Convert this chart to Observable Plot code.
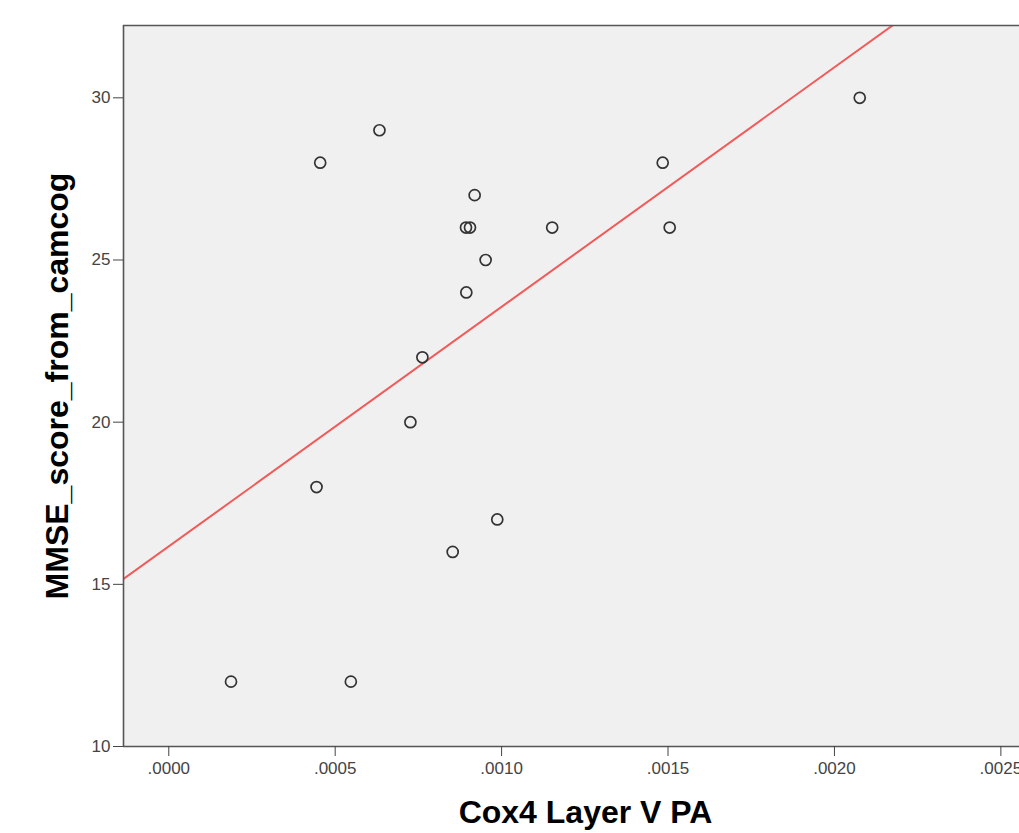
<!DOCTYPE html>
<html><head><meta charset="utf-8">
<script src="https://cdn.jsdelivr.net/npm/d3@7"></script>
<script src="https://cdn.jsdelivr.net/npm/@observablehq/plot@0.6"></script>
<style>body{margin:0;background:#fff}</style>
</head><body><div id="chart"></div>
<script>
const coxPA = [0.000187, 0.000547, 0.000444, 0.000455, 0.000633, 0.000726, 0.000762, 0.000853, 0.000894, 0.000893, 0.000905, 0.000919, 0.000952, 0.000987, 0.001152, 0.001484, 0.001505, 0.002076];
const mmse  = [12, 12, 18, 28, 29, 20, 22, 16, 24, 26, 26, 27, 25, 17, 26, 28, 26, 30];
const xTicks = [0, 0.0005, 0.001, 0.0015, 0.002, 0.0025];
const yTicks = [10, 15, 20, 25, 30];
const xLabel = "Cox4 Layer V PA";
const yLabel = "MMSE_score_from_camcog";

const points = coxPA.map((x, i) => ({x, y: mmse[i]}));
const mx = d3.mean(coxPA), my = d3.mean(mmse);
const slope = d3.sum(points, d => (d.x - mx) * (d.y - my)) / d3.sum(points, d => (d.x - mx) ** 2);
const intercept = my - slope * mx;
const xDomain = [-0.000136, 0.002556];
const yDomain = [10, 32.23];
const fit = xDomain.map(x => ({x, y: intercept + slope * x}));
const fmt = d => d3.format(".4f")(d).replace(/^0/, "");

const chart = Plot.plot({
  width: 1019,
  height: 833,
  marginLeft: 123,
  marginRight: 0,
  marginTop: 25,
  marginBottom: 87,
  style: {fontFamily: "'Liberation Sans', Arial, sans-serif", background: "#fff"},
  x: {domain: xDomain},
  y: {domain: yDomain},
  marks: [
    Plot.frame({fill: "#f0f0f0", stroke: null}),
    Plot.line(fit, {x: "x", y: "y", stroke: "#f25a5a", strokeWidth: 2, clip: true}),
    Plot.dot(points, {x: "x", y: "y", r: 5.5, stroke: "#333", strokeWidth: 1.7, fill: "none"}),
    Plot.ruleX([xDomain[0]], {stroke: "#555", strokeWidth: 1.6}),
    Plot.ruleY([yDomain[0]], {stroke: "#555", strokeWidth: 1.6}),
    Plot.ruleY([yDomain[1]], {stroke: "#555", strokeWidth: 1.6}),
    Plot.axisX({ticks: xTicks, tickFormat: fmt, tickSize: 10, tickPadding: 5, fontSize: 17, label: null, stroke: "#444", fill: "#444"}),
    Plot.axisY({ticks: yTicks, tickSize: 10, tickPadding: 3, fontSize: 17, label: null, stroke: "#444", fill: "#444"}),
    Plot.text([xLabel], {frameAnchor: "bottom", dx: 14, dy: 66, lineAnchor: "middle", fontSize: 32, fontWeight: "bold", fill: "#000"}),
    Plot.text([yLabel], {frameAnchor: "left", dx: -66, rotate: -90, textAnchor: "middle", lineAnchor: "middle", fontSize: 32, fontWeight: "bold", fill: "#000"})
  ]
});
document.getElementById("chart").appendChild(chart);
</script>
</body></html>
